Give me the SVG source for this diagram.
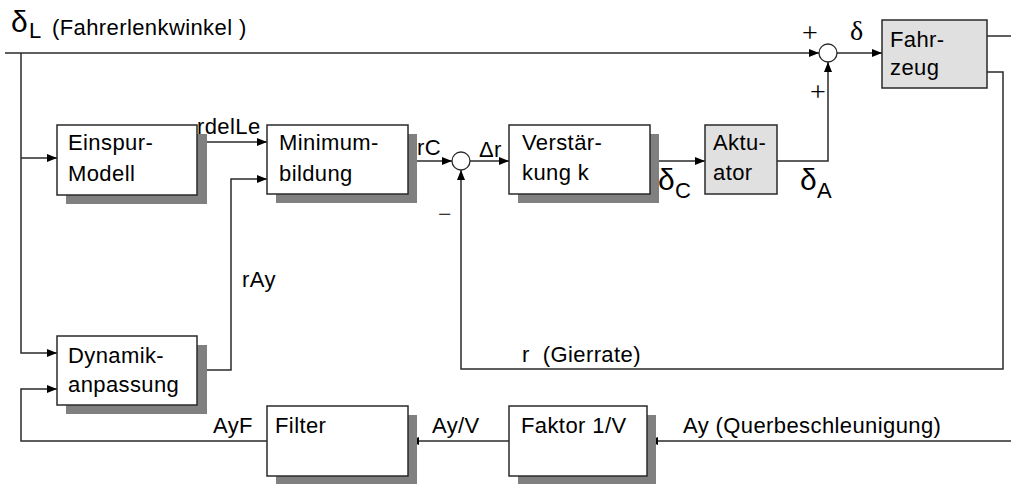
<svg xmlns="http://www.w3.org/2000/svg" width="1011" height="484" viewBox="0 0 1011 484">
<defs>
<style>
.box{fill:#ffffff;stroke:#2a2a2a;stroke-width:1.5}
.gbox{fill:#e0e0e0;stroke:#2a2a2a;stroke-width:1.5}
.sh{fill:#808080;stroke:none}
.ln{fill:none;stroke:#2a2a2a;stroke-width:1.5}
.sum{fill:#ffffff;stroke:#2a2a2a;stroke-width:1.3}
.t{font-family:"Liberation Sans",Arial,sans-serif;font-size:22px;letter-spacing:0.4px;fill:#000}
.d{font-family:"Liberation Sans",Arial,sans-serif;font-size:30px;fill:#000}
.s{font-family:"Liberation Serif","Times New Roman",serif;font-size:28px;fill:#000}
</style>
<marker id="ah" markerUnits="userSpaceOnUse" markerWidth="10" markerHeight="10" viewBox="0 0 10 10" refX="10" refY="5" orient="auto">
<path d="M0,1 L10,5 L0,9 Z" fill="#000"/>
</marker>
</defs>
<rect width="1011" height="484" fill="#ffffff"/>

<g id="connectors">
<polyline class="ln" points="5,53 819,53" marker-end="url(#ah)"/>
<polyline class="ln" points="21,53 21,353 57,353" marker-end="url(#ah)"/>
<polyline class="ln" points="21,158 57,158" marker-end="url(#ah)"/>
<polyline class="ln" points="197,142 267,142" marker-end="url(#ah)"/>
<polyline class="ln" points="197,370 231,370 231,179 267,179" marker-end="url(#ah)"/>
<polyline class="ln" points="408,161 452,161" marker-end="url(#ah)"/>
<polyline class="ln" points="470,161 509,161" marker-end="url(#ah)"/>
<polyline class="ln" points="650,161 705,161" marker-end="url(#ah)"/>
<polyline class="ln" points="777,161 828,161 828,62" marker-end="url(#ah)"/>
<polyline class="ln" points="837,53 882,53" marker-end="url(#ah)"/>
<polyline class="ln" points="987,36 1011,36"/>
<polyline class="ln" points="987,72 1003,72 1003,369 461,369 461,170" marker-end="url(#ah)"/>
<polyline class="ln" points="1011,441 648,441" marker-end="url(#ah)"/>
<polyline class="ln" points="509,441 409,441" marker-end="url(#ah)"/>
<polyline class="ln" points="267,441 21,441 21,389 57,389" marker-end="url(#ah)"/>
</g>

<g id="einspur">
<rect class="sh" x="66" y="134" width="141" height="70"/>
<rect class="box" x="57" y="125" width="140" height="70"/>
<text class="t" x="68" y="150">Einspur-</text>
<text class="t" x="68" y="181">Modell</text>
</g>

<g id="minimum">
<rect class="sh" x="276" y="134" width="141" height="69"/>
<rect class="box" x="267" y="125" width="141" height="69"/>
<text class="t" x="279" y="150">Minimum-</text>
<text class="t" x="279" y="181">bildung</text>
</g>

<g id="sum1">
<circle class="sum" cx="461" cy="161" r="9"/>
</g>

<g id="verstaerkung">
<rect class="sh" x="518" y="134" width="141" height="69"/>
<rect class="box" x="509" y="125" width="141" height="69"/>
<text class="t" x="522" y="150">Verstär-</text>
<text class="t" x="522" y="180">kung k</text>
</g>

<g id="aktuator">
<rect class="gbox" x="705" y="125" width="72" height="69"/>
<text class="t" x="713" y="150">Aktu-</text>
<text class="t" x="713" y="180">ator</text>
</g>

<g id="sum2">
<circle class="sum" cx="828" cy="53" r="9"/>
</g>

<g id="fahrzeug">
<rect class="gbox" x="882" y="20" width="105" height="68"/>
<text class="t" x="890" y="47">Fahr-</text>
<text class="t" x="890" y="75">zeug</text>
</g>

<g id="dynamik">
<rect class="sh" x="66" y="345" width="141" height="69"/>
<rect class="box" x="57" y="336" width="140" height="69"/>
<text class="t" x="68" y="363">Dynamik-</text>
<text class="t" x="68" y="392">anpassung</text>
</g>

<g id="filter">
<rect class="sh" x="276" y="415" width="141" height="70"/>
<rect class="box" x="267" y="406" width="141" height="70"/>
<text class="t" x="275" y="433">Filter</text>
</g>

<g id="faktor">
<rect class="sh" x="518" y="415" width="138" height="70"/>
<rect class="box" x="509" y="406" width="138" height="70"/>
<text class="t" x="521" y="433">Faktor 1/V</text>
</g>

<g id="labels">
<text class="d" x="11" y="32">δ</text>
<text class="t" x="29" y="38">L</text>
<text class="t" x="52" y="35">(Fahrerlenkwinkel )</text>
<text class="t" x="197" y="134">rdelLe</text>
<text class="t" x="417" y="155">rC</text>
<text class="t" x="479" y="157">Δr</text>
<text class="s" x="438" y="222" style="font-size:24px">−</text>
<text class="d" x="658" y="190">δ</text>
<text class="t" x="675" y="198">C</text>
<text class="d" x="800" y="190">δ</text>
<text class="t" x="817" y="198">A</text>
<text class="s" x="802" y="42">+</text>
<text class="s" x="810" y="101">+</text>
<text class="s" x="850" y="40">δ</text>
<text class="t" x="242" y="287">rAy</text>
<text class="t" x="522" y="362" xml:space="preserve">r  (Gierrate)</text>
<text class="t" x="213" y="433">AyF</text>
<text class="t" x="432" y="433">Ay/V</text>
<text class="t" x="683" y="433">Ay (Querbeschleunigung)</text>
</g>
</svg>
